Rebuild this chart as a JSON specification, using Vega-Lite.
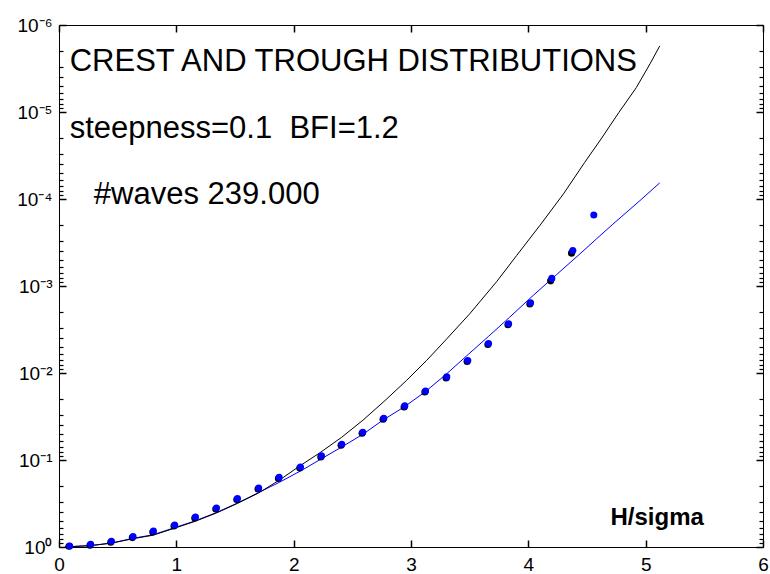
{
  "$schema": "https://vega.github.io/schema/vega-lite/v6.json",
  "width": 704,
  "height": 522,
  "autosize": "none",
  "padding": {"left": 59, "top": 25, "right": 7, "bottom": 27},
  "background": "white",
  "config": {
    "view": {"stroke": "black", "strokeWidth": 1},
    "font": "Liberation Sans"
  },
  "datasets": {
    "black_curve": [
      {"H": 0.05, "p": 0.9977}, {"H": 0.27, "p": 0.9638}, {"H": 0.45, "p": 0.9016}, {"H": 0.63, "p": 0.8035},
      {"H": 0.80, "p": 0.7328}, {"H": 0.99, "p": 0.6053}, {"H": 1.16, "p": 0.5070}, {"H": 1.34, "p": 0.4074},
      {"H": 1.52, "p": 0.3162}, {"H": 1.70, "p": 0.2399}, {"H": 1.88, "p": 0.1698}, {"H": 2.05, "p": 0.1175},
      {"H": 2.22, "p": 0.0832}, {"H": 2.41, "p": 0.0547}, {"H": 2.59, "p": 0.0349}, {"H": 2.78, "p": 0.02065},
      {"H": 2.96, "p": 0.01225}, {"H": 3.13, "p": 0.00724}, {"H": 3.30, "p": 0.00412}, {"H": 3.50, "p": 0.00209},
      {"H": 3.73, "p": 0.000891}, {"H": 3.90, "p": 0.000447}, {"H": 4.10, "p": 0.000200}, {"H": 4.30, "p": 0.0000871},
      {"H": 4.48, "p": 0.0000380}, {"H": 4.62, "p": 0.0000204}, {"H": 4.77, "p": 0.0000102}, {"H": 4.92, "p": 0.00000525},
      {"H": 5.04, "p": 0.00000275}, {"H": 5.12, "p": 0.00000174}
    ],
    "blue_curve": [
      {"H": 0.05, "p": 0.9977}, {"H": 0.27, "p": 0.9638}, {"H": 0.45, "p": 0.8995}, {"H": 0.63, "p": 0.7943},
      {"H": 0.80, "p": 0.7244}, {"H": 0.99, "p": 0.5957}, {"H": 1.16, "p": 0.5012}, {"H": 1.34, "p": 0.4027},
      {"H": 1.52, "p": 0.3126}, {"H": 1.70, "p": 0.2371}, {"H": 1.88, "p": 0.1799}, {"H": 2.08, "p": 0.1288},
      {"H": 2.24, "p": 0.0962}, {"H": 2.41, "p": 0.0708}, {"H": 2.59, "p": 0.0506}, {"H": 2.76, "p": 0.0349},
      {"H": 2.95, "p": 0.0241}, {"H": 3.12, "p": 0.01648}, {"H": 3.30, "p": 0.01033}, {"H": 3.49, "p": 0.00608},
      {"H": 3.66, "p": 0.00380}, {"H": 3.84, "p": 0.00229}, {"H": 4.04, "p": 0.001288}, {"H": 4.24, "p": 0.000741},
      {"H": 4.44, "p": 0.000427}, {"H": 4.58, "p": 0.000288}, {"H": 4.72, "p": 0.000195}, {"H": 4.95, "p": 0.0001047},
      {"H": 5.12, "p": 0.0000652}
    ],
    "crest_pts": [
      {"H": 0.085, "p": 0.982}, {"H": 0.264, "p": 0.955}, {"H": 0.441, "p": 0.883}, {"H": 0.625, "p": 0.780},
      {"H": 0.799, "p": 0.673}, {"H": 0.980, "p": 0.574}, {"H": 1.157, "p": 0.4645}, {"H": 1.336, "p": 0.3656},
      {"H": 1.515, "p": 0.2851}, {"H": 1.696, "p": 0.2153}, {"H": 1.870, "p": 0.1629}, {"H": 2.052, "p": 0.1236},
      {"H": 2.231, "p": 0.0923}, {"H": 2.404, "p": 0.0678}, {"H": 2.583, "p": 0.0493}, {"H": 2.762, "p": 0.0340},
      {"H": 2.941, "p": 0.02455}, {"H": 3.118, "p": 0.01652}, {"H": 3.299, "p": 0.01140}, {"H": 3.478, "p": 0.00738},
      {"H": 3.655, "p": 0.00471}, {"H": 3.826, "p": 0.00279}, {"H": 4.013, "p": 0.001607}, {"H": 4.190, "p": 0.000873},
      {"H": 4.368, "p": 0.000419}
    ],
    "trough_pts": [
      {"H": 0.091, "p": 0.9727}, {"H": 0.270, "p": 0.9311}, {"H": 0.447, "p": 0.8590}, {"H": 0.631, "p": 0.7586},
      {"H": 0.805, "p": 0.6546}, {"H": 0.986, "p": 0.5585}, {"H": 1.163, "p": 0.4519}, {"H": 1.342, "p": 0.3556},
      {"H": 1.521, "p": 0.2773}, {"H": 1.702, "p": 0.2094}, {"H": 1.876, "p": 0.1585}, {"H": 2.058, "p": 0.1202},
      {"H": 2.237, "p": 0.0897}, {"H": 2.410, "p": 0.0659}, {"H": 2.589, "p": 0.0480}, {"H": 2.768, "p": 0.0331},
      {"H": 2.947, "p": 0.02388}, {"H": 3.124, "p": 0.01607}, {"H": 3.305, "p": 0.01109}, {"H": 3.484, "p": 0.00718},
      {"H": 3.661, "p": 0.00458}, {"H": 3.832, "p": 0.00271}, {"H": 4.019, "p": 0.001563}, {"H": 4.200, "p": 0.000818},
      {"H": 4.379, "p": 0.000390}, {"H": 4.558, "p": 0.000153}
    ],
    "big_text": [
      {"H": 0.091, "p": 0.00000336, "label": "CREST AND TROUGH DISTRIBUTIONS"},
      {"H": 0.091, "p": 0.0000198, "label": "steepness=0.1\u00a0 BFI=1.2"},
      {"H": 0.297, "p": 0.0001145, "label": "#waves 239.000"}
    ],
    "axis_text": [
      {"H": 4.70, "p": 0.5525, "label": "H/sigma"}
    ]
  },
  "resolve": {"axis": {"x": "independent", "y": "independent"}},
  "layer": [
    {
      "data": {"name": "blue_curve"},
      "mark": {"type": "line", "color": "#0000ff", "strokeWidth": 1},
      "encoding": {
        "x": {"field": "H", "type": "quantitative", "scale": {"domain": [0, 6], "nice": false, "zero": false},
              "axis": {"orient": "bottom", "zindex": 1, "values": [0, 1, 2, 3, 4, 5, 6], "offset": -7, "tickSize": 7, "tickColor": "black", "tickWidth": 1.5, "domain": false, "grid": false, "title": null,
                       "labelPadding": 8, "labelFlush": false, "labelOverlap": false, "labelFont": "Liberation Sans", "labelFontSize": 19, "labelColor": "black"}},
        "y": {"field": "p", "type": "quantitative", "scale": {"type": "log", "domain": [0.000001, 1], "reverse": true, "nice": false},
              "axis": {"orient": "left", "zindex": 1, "values": [1, 0.1, 0.01, 0.001, 0.0001, 0.00001, 0.000001], "offset": -7, "tickSize": 7, "tickColor": "black", "tickWidth": 1.5, "domain": false, "grid": false, "title": null,
                       "labelPadding": 7, "labelOverlap": false, "labelFont": "Liberation Sans", "labelFontSize": 19, "labelColor": "black",
                       "labelExpr": "datum.value >= 0.5 ? '10⁰' : datum.value >= 0.05 ? '10⁻¹' : datum.value >= 0.005 ? '10⁻²' : datum.value >= 0.0005 ? '10⁻³' : datum.value >= 0.00005 ? '10⁻⁴' : datum.value >= 0.000005 ? '10⁻⁵' : '10⁻⁶'"}}
      }
    },
    {
      "data": {"name": "black_curve"},
      "mark": {"type": "line", "color": "black", "strokeWidth": 1},
      "encoding": {
        "x": {"field": "H", "type": "quantitative", "scale": {"domain": [0, 6], "nice": false, "zero": false},
              "axis": {"orient": "top", "zindex": 1, "values": [0, 1, 2, 3, 4, 5, 6], "offset": -7, "tickSize": 7, "tickColor": "black", "tickWidth": 1.5, "labels": false, "domain": false, "grid": false, "title": null}},
        "y": {"field": "p", "type": "quantitative", "scale": {"type": "log", "domain": [0.000001, 1], "reverse": true, "nice": false},
              "axis": {"orient": "left", "zindex": 1, "offset": -4, "tickSize": 4, "tickColor": "black", "tickWidth": 1.2, "labels": false, "domain": false, "grid": false, "title": null,
                       "values": [0.000002, 0.000003, 0.000004, 0.000005, 0.000006, 0.000007, 0.000008, 0.000009,
                                  0.00002, 0.00003, 0.00004, 0.00005, 0.00006, 0.00007, 0.00008, 0.00009,
                                  0.0002, 0.0003, 0.0004, 0.0005, 0.0006, 0.0007, 0.0008, 0.0009,
                                  0.002, 0.003, 0.004, 0.005, 0.006, 0.007, 0.008, 0.009,
                                  0.02, 0.03, 0.04, 0.05, 0.06, 0.07, 0.08, 0.09,
                                  0.2, 0.3, 0.4, 0.5, 0.6, 0.7, 0.8, 0.9]}}
      }
    },
    {
      "data": {"name": "crest_pts"},
      "mark": {"type": "point", "shape": "circle", "filled": true, "color": "black", "opacity": 1, "size": 50, "strokeWidth": 0},
      "encoding": {
        "x": {"field": "H", "type": "quantitative", "scale": {"domain": [0, 6], "nice": false, "zero": false}, "axis": null},
        "y": {"field": "p", "type": "quantitative", "scale": {"type": "log", "domain": [0.000001, 1], "reverse": true, "nice": false},
              "axis": {"orient": "right", "zindex": 1, "values": [1, 0.1, 0.01, 0.001, 0.0001, 0.00001, 0.000001], "offset": -7, "tickSize": 7, "tickColor": "black", "tickWidth": 1.5, "labels": false, "domain": false, "grid": false, "title": null}}
      }
    },
    {
      "data": {"name": "trough_pts"},
      "mark": {"type": "point", "shape": "circle", "filled": true, "color": "#0000ff", "opacity": 1, "size": 50, "strokeWidth": 0},
      "encoding": {
        "x": {"field": "H", "type": "quantitative", "scale": {"domain": [0, 6], "nice": false, "zero": false}, "axis": null},
        "y": {"field": "p", "type": "quantitative", "scale": {"type": "log", "domain": [0.000001, 1], "reverse": true, "nice": false},
              "axis": {"orient": "right", "zindex": 1, "offset": -4, "tickSize": 4, "tickColor": "black", "tickWidth": 1.2, "labels": false, "domain": false, "grid": false, "title": null,
                       "values": [0.000002, 0.000003, 0.000004, 0.000005, 0.000006, 0.000007, 0.000008, 0.000009,
                                  0.00002, 0.00003, 0.00004, 0.00005, 0.00006, 0.00007, 0.00008, 0.00009,
                                  0.0002, 0.0003, 0.0004, 0.0005, 0.0006, 0.0007, 0.0008, 0.0009,
                                  0.002, 0.003, 0.004, 0.005, 0.006, 0.007, 0.008, 0.009,
                                  0.02, 0.03, 0.04, 0.05, 0.06, 0.07, 0.08, 0.09,
                                  0.2, 0.3, 0.4, 0.5, 0.6, 0.7, 0.8, 0.9]}}
      }
    },
    {
      "data": {"name": "big_text"},
      "mark": {"type": "text", "align": "left", "baseline": "alphabetic", "fontSize": 31, "font": "Liberation Sans", "color": "black"},
      "encoding": {
        "x": {"field": "H", "type": "quantitative", "scale": {"domain": [0, 6], "nice": false, "zero": false}, "axis": null},
        "y": {"field": "p", "type": "quantitative", "scale": {"type": "log", "domain": [0.000001, 1], "reverse": true, "nice": false}, "axis": null},
        "text": {"field": "label", "type": "nominal"}
      }
    },
    {
      "data": {"name": "axis_text"},
      "mark": {"type": "text", "align": "left", "baseline": "alphabetic", "fontSize": 24, "fontWeight": "bold", "font": "Liberation Sans", "color": "black"},
      "encoding": {
        "x": {"field": "H", "type": "quantitative", "scale": {"domain": [0, 6], "nice": false, "zero": false}, "axis": null},
        "y": {"field": "p", "type": "quantitative", "scale": {"type": "log", "domain": [0.000001, 1], "reverse": true, "nice": false}, "axis": null},
        "text": {"field": "label", "type": "nominal"}
      }
    }
  ]
}
